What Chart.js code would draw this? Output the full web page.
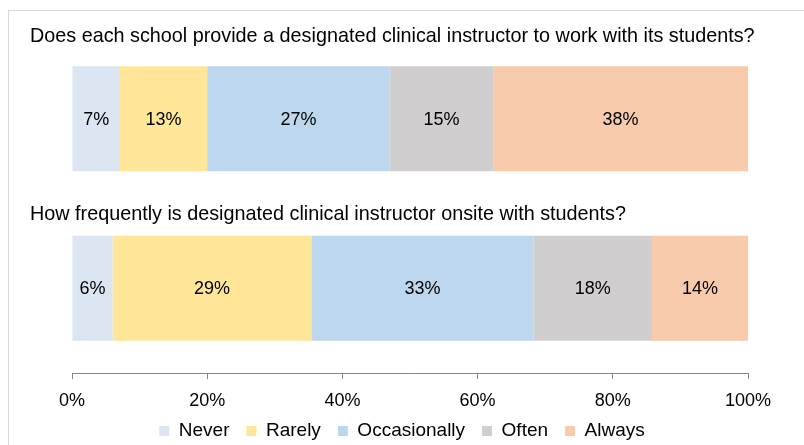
<!DOCTYPE html>
<html>
<head>
<meta charset="utf-8">
<script src="https://cdn.jsdelivr.net/npm/chart.js@4.4.1/dist/chart.umd.min.js"></script>
<style>
  html, body { margin: 0; padding: 0; background: #ffffff; overflow: hidden; }
  #wrap { position: relative; width: 804px; height: 445px; overflow: hidden; }
  canvas { display: block; }
</style>
</head>
<body>
<div id="wrap"><canvas id="c" width="804" height="457"></canvas></div>
<script>
// ---- data ----
const questions = [
  "Does each school provide a designated clinical instructor to work with its students?",
  "How frequently is designated clinical instructor onsite with students?"
];
const seriesNames = ["Never", "Rarely", "Occasionally", "Often", "Always"];
const never        = [7.1, 6.0];
const rarely       = [12.9, 29.4];
const occasionally = [27.0, 32.9];
const often        = [15.3, 17.5];
const always       = [37.7, 14.2];
const xTicks = [0, 20, 40, 60, 80, 100];
const colors = ["#dce6f2", "#ffe699", "#bdd7ee", "#d0cece", "#f8cbad"];

const FONT = "'Liberation Sans', Arial, sans-serif";
const seriesValues = [never, rarely, occasionally, often, always];

const textPlugin = {
  id: 'textPlugin',
  afterLayout(chart) {
    // pull the legend row up slightly, closer to the axis labels
    if (chart.legend) {
      chart.legend.top -= 6.5;
      chart.legend.bottom -= 6.5;
    }
  },
  beforeDraw(chart) {
    const ctx = chart.ctx;
    ctx.save();
    ctx.strokeStyle = '#d9d9d9';
    ctx.lineWidth = 1;
    ctx.strokeRect(8.5, 10.5, 1000, 1000);
    ctx.restore();
  },
  afterDatasetsDraw(chart) {
    const ctx = chart.ctx;
    ctx.save();
    ctx.font = "18px " + FONT;
    ctx.fillStyle = '#000000';
    ctx.textAlign = 'center';
    ctx.textBaseline = 'middle';
    chart.data.datasets.forEach((ds, di) => {
      const meta = chart.getDatasetMeta(di);
      meta.data.forEach((bar, i) => {
        const v = ds.data[i];
        const x0 = Math.min(bar.x, bar.base), x1 = Math.max(bar.x, bar.base);
        ctx.fillText(Math.round(v) + '%', (x0 + x1) / 2, bar.y + 1);
      });
    });
    // question titles above each bar
    ctx.font = "19.8px " + FONT;
    const meta0 = chart.getDatasetMeta(0);
    const offsets = [30, 21];
    ctx.textAlign = 'left';
    meta0.data.forEach((bar, i) => {
      const top = bar.y - bar.height / 2;
      ctx.fillText(questions[i], 30, top - offsets[i]);
    });
    ctx.restore();
  }
};

new Chart(document.getElementById('c'), {
  type: 'bar',
  data: {
    labels: questions,
    datasets: seriesNames.map((n, i) => ({
      label: n,
      data: seriesValues[i],
      backgroundColor: colors[i],
      borderWidth: 0,
      barPercentage: 0.62,
      categoryPercentage: 1.0
    }))
  },
  options: {
    indexAxis: 'y',
    responsive: false,
    animation: false,
    devicePixelRatio: 1,
    layout: { padding: { top: 34, left: 0, right: 0, bottom: 0 } },
    scales: {
      x: {
        stacked: true,
        min: 0, max: 100,
        afterBuildTicks(axis) { axis.ticks = xTicks.map(v => ({ value: v })); },
        afterFit(axis) { axis.height = 38; },
        grid: { display: true, drawOnChartArea: false, drawTicks: true, tickLength: 6, color: '#868686' },
        border: { display: true, color: '#868686', width: 1 },
        ticks: {
          color: '#000000',
          font: { family: FONT, size: 18 },
          padding: 11,
          callback: v => v + '%'
        }
      },
      y: {
        stacked: true,
        display: true,
        grid: { display: false },
        border: { display: false },
        ticks: { display: false },
        afterFit(axis) { axis.width = 72; }
      },
      yRight: {
        type: 'linear',
        axis: 'y',
        position: 'right',
        display: true,
        grid: { display: false },
        border: { display: false },
        ticks: { display: false },
        afterFit(axis) { axis.width = 56; }
      }
    },
    plugins: {
      legend: {
        position: 'bottom',
        labels: {
          color: '#000000',
          font: { family: FONT, size: 19 },
          boxWidth: 10,
          boxHeight: 10,
          padding: 17
        }
      },
      tooltip: { enabled: false },
      title: { display: false }
    }
  },
  plugins: [textPlugin]
});
</script>
</body>
</html>
